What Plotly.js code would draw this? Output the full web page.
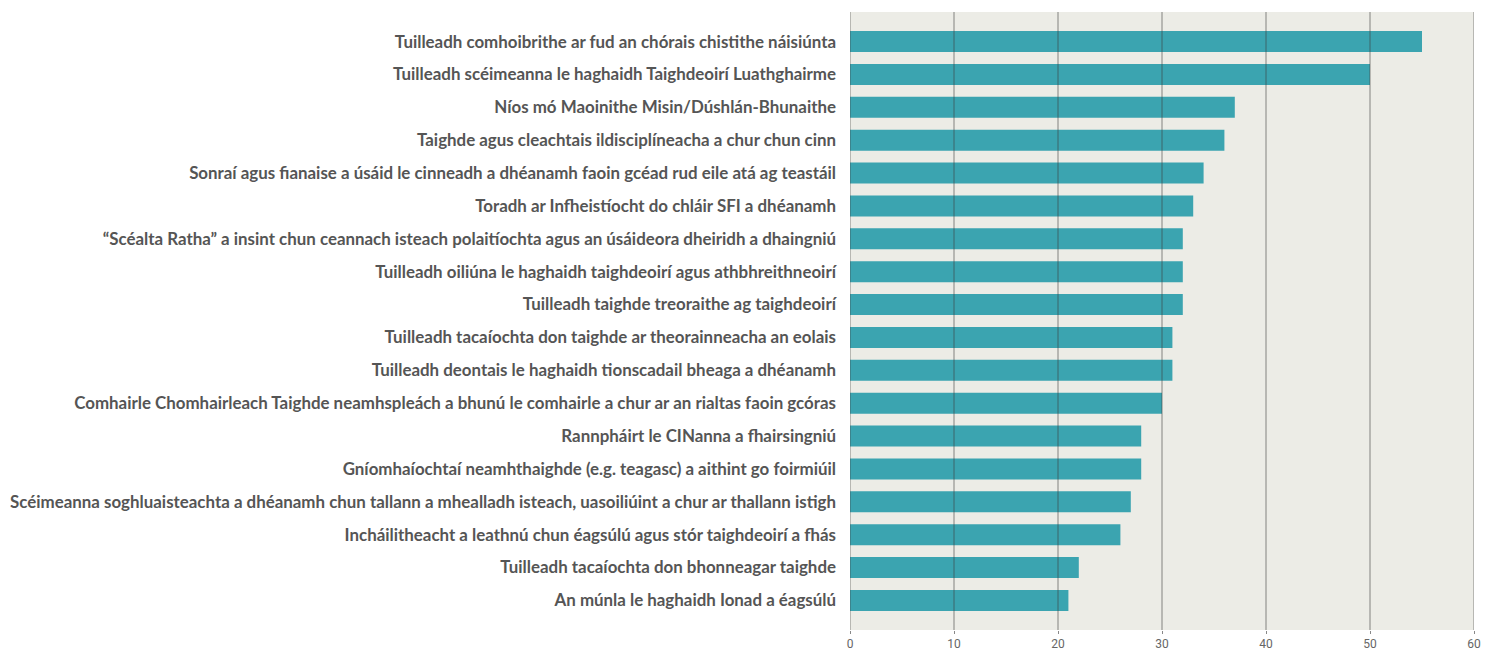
<!DOCTYPE html>
<html>
<head>
<meta charset="utf-8">
<script src="https://cdn.plot.ly/plotly-3.0.1.min.js"></script>
<style>html,body{margin:0;padding:0;background:#fff;}#chart{width:1497px;height:651px;}</style>
</head>
<body>
<div id="chart"></div>
<script>
const categories = [
  "Tuilleadh comhoibrithe ar fud an chórais chistithe náisiúnta",
  "Tuilleadh scéimeanna le haghaidh Taighdeoirí Luathghairme",
  "Níos mó Maoinithe Misin/Dúshlán-Bhunaithe",
  "Taighde agus cleachtais ildisciplíneacha a chur chun cinn",
  "Sonraí agus fianaise a úsáid le cinneadh a dhéanamh faoin gcéad rud eile atá ag teastáil",
  "Toradh ar Infheistíocht do chláir SFI a dhéanamh",
  "“Scéalta Ratha” a insint chun ceannach isteach polaitíochta agus an úsáideora dheiridh a dhaingniú",
  "Tuilleadh oiliúna le haghaidh taighdeoirí agus athbhreithneoirí",
  "Tuilleadh taighde treoraithe ag taighdeoirí",
  "Tuilleadh tacaíochta don taighde ar theorainneacha an eolais",
  "Tuilleadh deontais le haghaidh tionscadail bheaga a dhéanamh",
  "Comhairle Chomhairleach Taighde neamhspleách a bhunú le comhairle a chur ar an rialtas faoin gcóras",
  "Rannpháirt le CINanna a fhairsingniú",
  "Gníomhaíochtaí neamhthaighde (e.g. teagasc) a aithint go foirmiúil",
  "Scéimeanna soghluaisteachta a dhéanamh chun tallann a mhealladh isteach, uasoiliúint a chur ar thallann istigh",
  "Incháilitheacht a leathnú chun éagsúlú agus stór taighdeoirí a fhás",
  "Tuilleadh tacaíochta don bhonneagar taighde",
  "An múnla le haghaidh Ionad a éagsúlú"
];
const values = [55, 50, 37, 36, 34, 33, 32, 32, 32, 31, 31, 30, 28, 28, 27, 26, 22, 21];
const xTicks = [0, 10, 20, 30, 40, 50, 60];

const trace = {
  type: 'bar',
  orientation: 'h',
  y: categories.map((c, i) => i),
  x: values,
  width: 0.64,
  marker: {color: '#3ba4b0'},
  hoverinfo: 'x+text',
  text: categories,
  textposition: 'none'
};

const shapes = xTicks.map(v => ({
  type: 'line', xref: 'x', yref: 'paper',
  x0: v, x1: v, y0: 0, y1: 1,
  layer: 'above',
  line: {color: 'rgba(60,60,60,0.6)', width: 1}
}));

const layout = {
  width: 1497, height: 651,
  margin: {l: 850, r: 23, t: 12, b: 21, pad: 0},
  paper_bgcolor: '#ffffff',
  plot_bgcolor: '#ecece6',
  showlegend: false,
  font: {family: 'Lato, "Open Sans", sans-serif', color: '#555555'},
  xaxis: {
    range: [0, 60],
    tickvals: xTicks,
    ticktext: xTicks.map(String),
    showgrid: false,
    zeroline: false,
    showline: false,
    ticks: 'outside', ticklen: 3, tickcolor: '#888888', tickwidth: 1,
    tickfont: {family: '"Liberation Sans Narrow", "Roboto", sans-serif', size: 12, color: '#666666'}
  },
  yaxis: {
    range: [17.9, -0.9],
    tickvals: categories.map((c, i) => i),
    ticktext: categories,
    showgrid: false,
    zeroline: false,
    showline: false,
    ticks: '',
    ticklabelstandoff: 13,
    tickfont: {family: 'Lato, sans-serif', size: 16.9, color: '#555555', weight: 'bold'}
  },
  shapes: shapes
};

Plotly.newPlot('chart', [trace], layout, {displayModeBar: false, staticPlot: true});
</script>
</body>
</html>
